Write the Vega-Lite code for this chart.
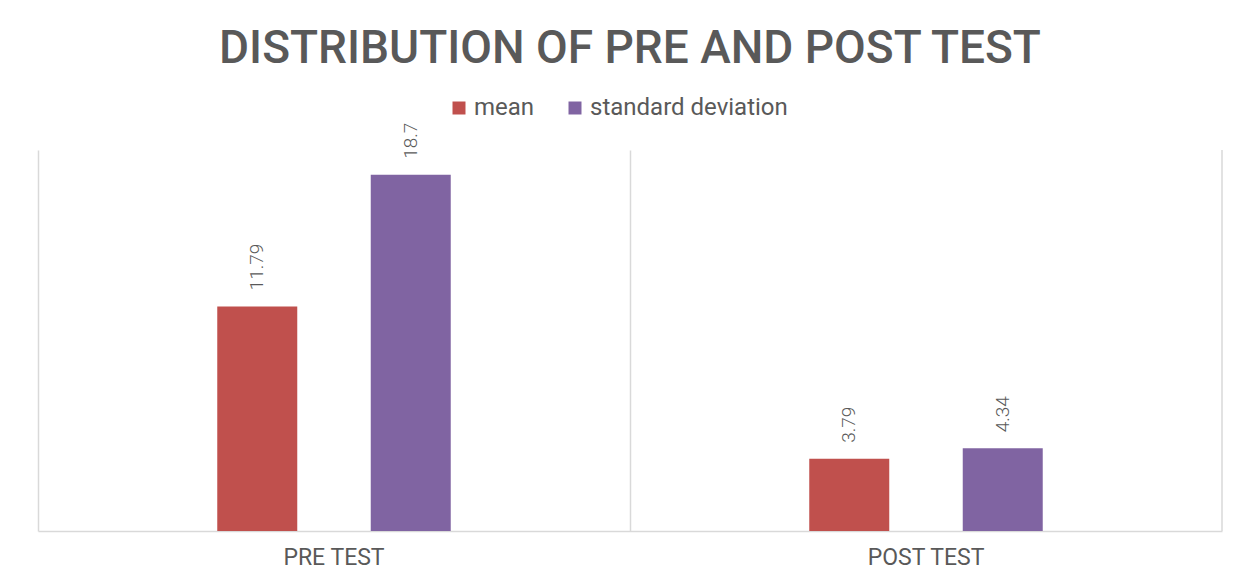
{
  "$schema": "https://vega.github.io/schema/vega-lite/v6.json",
  "width": 1184,
  "height": 381,
  "autosize": {"type": "none"},
  "padding": {"left": 38, "top": 150, "right": 29, "bottom": 48},
  "background": "white",
  "config": {"view": {"stroke": null}, "font": "Roboto"},
  "title": {
    "text": "DISTRIBUTION OF PRE AND POST TEST",
    "font": "Roboto",
    "fontSize": 46,
    "fontWeight": 500,
    "color": "#595959",
    "anchor": "middle",
    "offset": 23
  },
  "datasets": {
    "stats": [
      {"test": "PRE TEST", "measure": "mean", "value": 11.79},
      {"test": "PRE TEST", "measure": "standard deviation", "value": 18.7},
      {"test": "POST TEST", "measure": "mean", "value": 3.79},
      {"test": "POST TEST", "measure": "standard deviation", "value": 4.34}
    ],
    "edge": [{"test": "POST TEST"}]
  },
  "layer": [
    {
      "data": {"name": "stats"},
      "mark": {"type": "bar", "width": 80},
      "encoding": {
        "x": {
          "field": "test",
          "type": "nominal",
          "scale": {"domain": ["PRE TEST", "POST TEST"], "paddingInner": 0, "paddingOuter": 0},
          "title": null,
          "axis": {
            "labelAngle": 0,
            "labelFont": "Roboto",
            "labelFontSize": 23,
            "labelColor": "#595959",
            "labelPadding": 15,
            "ticks": false,
            "domainColor": "#D9D9D9",
            "domainWidth": 1.5,
            "grid": true,
            "gridColor": "#D9D9D9",
            "gridWidth": 1.5,
            "bandPosition": 0
          }
        },
        "xOffset": {
          "field": "measure",
          "scale": {"domain": ["mean", "standard deviation"], "paddingInner": 0.143, "paddingOuter": 1}
        },
        "y": {
          "field": "value",
          "type": "quantitative",
          "scale": {"domain": [0, 20], "nice": false},
          "axis": null
        },
        "color": {
          "field": "measure",
          "type": "nominal",
          "scale": {"domain": ["mean", "standard deviation"], "range": ["#C0504D", "#8064A2"]},
          "legend": {
            "title": null,
            "orient": "none",
            "legendX": 409,
            "legendY": -54,
            "direction": "horizontal",
            "symbolType": "square",
            "symbolSize": 169,
            "symbolStrokeWidth": 0,
            "labelFont": "Roboto",
            "labelFontSize": 24,
            "labelColor": "#595959",
            "labelLimit": 400,
            "columnPadding": 28,
            "labelOffset": 3
          }
        }
      }
    },
    {
      "data": {"name": "stats"},
      "mark": {
        "type": "text",
        "angle": -90,
        "align": "left",
        "baseline": "middle",
        "dx": 16,
        "font": "Roboto",
        "fontSize": 19,
        "fontWeight": 300,
        "color": "#595959"
      },
      "encoding": {
        "x": {"field": "test", "type": "nominal"},
        "xOffset": {"field": "measure"},
        "y": {"field": "value", "type": "quantitative"},
        "text": {"field": "value", "type": "quantitative"}
      }
    },
    {
      "data": {"name": "edge"},
      "mark": {"type": "rule", "color": "#D9D9D9", "strokeWidth": 1.5},
      "encoding": {
        "x": {"field": "test", "type": "nominal", "bandPosition": 1}
      }
    }
  ]
}
